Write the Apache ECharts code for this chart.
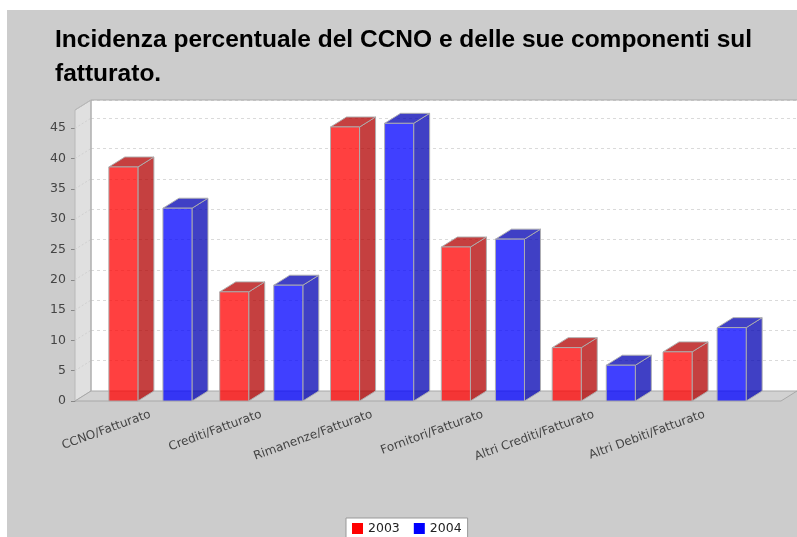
<!DOCTYPE html>
<html>
<head>
<meta charset="utf-8">
<script src="https://cdn.jsdelivr.net/npm/echarts@6/dist/echarts.min.js"></script>
<style>
html,body{margin:0;padding:0;background:#ffffff;width:797px;height:537px;overflow:hidden;}
#chart{position:absolute;left:7px;top:10px;width:790px;height:527px;}
</style>
</head>
<body>
<div id="chart"></div>
<script>
// ---- data ----
const titleText = 'Incidenza percentuale del CCNO e delle sue componenti sul\nfatturato.';
const categories = ['CCNO/Fatturato', 'Crediti/Fatturato', 'Rimanenze/Fatturato', 'Fornitori/Fatturato', 'Altri Crediti/Fatturato', 'Altri Debiti/Fatturato'];
const seriesNames = ['2003', '2004'];
const values2003 = [38.6, 18.0, 45.2, 25.4, 8.8, 8.1];
const values2004 = [31.8, 19.1, 45.8, 26.7, 5.9, 12.1];
const yTicks = [0, 5, 10, 15, 20, 25, 30, 35, 40, 45];
const yMax = 48;

// ---- layout / style ----
const DX = 16, DY = 10;
const faceColors = [
  { front: 'rgba(255,0,0,0.75)', side: 'rgba(178,0,0,0.75)' },
  { front: 'rgba(0,0,255,0.75)', side: 'rgba(0,0,178,0.75)' }
];
const outline = 'rgba(175,175,175,0.95)';

function barRenderer(sIdx) {
  return function (params, api) {
    const ci = api.value(0), v = api.value(1);
    const top = api.coord([ci, v]);
    const bot = api.coord([ci, 0]);
    const bw = api.size([1, 0])[0];
    const barW = bw * 0.262;
    const inner = bw * 0.113;
    const x0 = sIdx === 0 ? top[0] - inner - barW : top[0] + inner;
    const x1 = x0 + barW;
    const c = faceColors[sIdx];
    const st = { lineWidth: 1, stroke: outline };
    return {
      type: 'group',
      children: [
        { type: 'polygon', shape: { points: [[x1, top[1]], [x1 + DX, top[1] - DY], [x1 + DX, bot[1] - DY], [x1, bot[1]]] },
          style: Object.assign({ fill: c.side }, st) },
        { type: 'polygon', shape: { points: [[x0, top[1]], [x0 + DX, top[1] - DY], [x1 + DX, top[1] - DY], [x1, top[1]]] },
          style: Object.assign({ fill: c.side }, st) },
        { type: 'rect', shape: { x: x0, y: top[1], width: barW, height: bot[1] - top[1] },
          style: Object.assign({ fill: c.front }, st) }
      ]
    };
  };
}

function wallRenderer(params, api) {
  const cs = params.coordSys;
  const bx0 = cs.x, by0 = cs.y, bx1 = cs.x + cs.width, by1 = cs.y + cs.height;
  const children = [];
  // left wall
  children.push({ type: 'polygon', shape: { points: [[bx0 - DX, by1 + DY], [bx0 - DX, by0 + DY], [bx0, by0], [bx0, by1]] },
    style: { fill: '#e0e0e0', stroke: '#b8b8b8', lineWidth: 1 } });
  // floor
  children.push({ type: 'polygon', shape: { points: [[bx0 - DX, by1 + DY], [bx1 - DX, by1 + DY], [bx1, by1], [bx0, by1]] },
    style: { fill: '#d2d2d2', stroke: '#a8a8a8', lineWidth: 1 } });
  // diagonal tick lines on left wall
  yTicks.forEach(function (t) {
    if (t === 0) return;
    const p = api.coord([0, t]);
    children.push({ type: 'line', shape: { x1: bx0 - DX, y1: p[1] + DY, x2: bx0, y2: p[1] },
      style: { stroke: '#d0d0d0', lineWidth: 1, lineDash: [2, 2] } });
  });
  // back wall border (top and left)
  children.push({ type: 'polyline', shape: { points: [[bx0, by1], [bx0, by0], [bx1, by0]] },
    style: { stroke: '#aaaaaa', lineWidth: 1, fill: null } });
  children.push({ type: 'line', shape: { x1: bx0 - DX, y1: by0 + DY, x2: bx0, y2: by0 },
    style: { stroke: '#b8b8b8', lineWidth: 1 } });
  return { type: 'group', children: children };
}

const chart = echarts.init(document.getElementById('chart'));
chart.setOption({
  backgroundColor: '#cccccc',
  animation: false,
  title: {
    text: titleText,
    left: 43, top: 8,
    textStyle: { fontFamily: 'Liberation Sans', fontWeight: 'bold', fontSize: 24.5, color: '#000', lineHeight: 34 }
  },
  legend: {
    data: seriesNames,
    left: 339, top: 508,
    icon: 'rect', itemWidth: 11, itemHeight: 11, itemGap: 14,
    padding: [4, 6, 4, 6],
    backgroundColor: '#ffffff', borderColor: '#999999', borderWidth: 1, borderRadius: 0,
    textStyle: { fontFamily: 'DejaVu Sans', fontSize: 12.5, color: '#222' }
  },
  grid: [
    { left: 88, right: 37, top: 100, bottom: 136, containLabel: false },
    { left: 84, right: 0, top: 90, bottom: 146, show: true, backgroundColor: '#ffffff', borderWidth: 0, containLabel: false }
  ],
  xAxis: [
    { type: 'category', gridIndex: 0, data: categories,
      axisLine: { show: false }, axisTick: { show: false }, splitLine: { show: false },
      axisLabel: { interval: 0, rotate: 20, margin: 13, fontFamily: 'DejaVu Sans', fontSize: 12, color: '#444' } },
    { type: 'value', gridIndex: 1, min: 0, max: 1, show: false }
  ],
  yAxis: [
    { type: 'value', gridIndex: 0, min: 0, max: yMax, interval: 5, offset: 20,
      axisLine: { show: true, lineStyle: { color: '#888888' } },
      axisTick: { show: true, length: 4, lineStyle: { color: '#888888' }, customValues: yTicks },
      axisLabel: { margin: 9, fontFamily: 'DejaVu Sans', fontSize: 12.5, color: '#444', customValues: yTicks },
      splitLine: { show: false } },
    { type: 'value', gridIndex: 1, min: 0, max: yMax, interval: 5,
      axisLine: { show: false }, axisTick: { show: false }, axisLabel: { show: false },
      splitLine: { show: true, lineStyle: { color: '#dadada', type: [3, 3], width: 1 } } }
  ],
  series: [
    { type: 'custom', name: 'walls', xAxisIndex: 1, yAxisIndex: 1, z: 1, silent: true,
      renderItem: wallRenderer, data: [[0, 0]] },
    { type: 'custom', name: seriesNames[0], xAxisIndex: 0, yAxisIndex: 0, z: 3,
      itemStyle: { color: '#ff0000' }, renderItem: barRenderer(0),
      data: values2003.map(function (v, i) { return [i, v]; }) },
    { type: 'custom', name: seriesNames[1], xAxisIndex: 0, yAxisIndex: 0, z: 3,
      itemStyle: { color: '#0000ff' }, renderItem: barRenderer(1),
      data: values2004.map(function (v, i) { return [i, v]; }) }
  ]
});
</script>
</body>
</html>
